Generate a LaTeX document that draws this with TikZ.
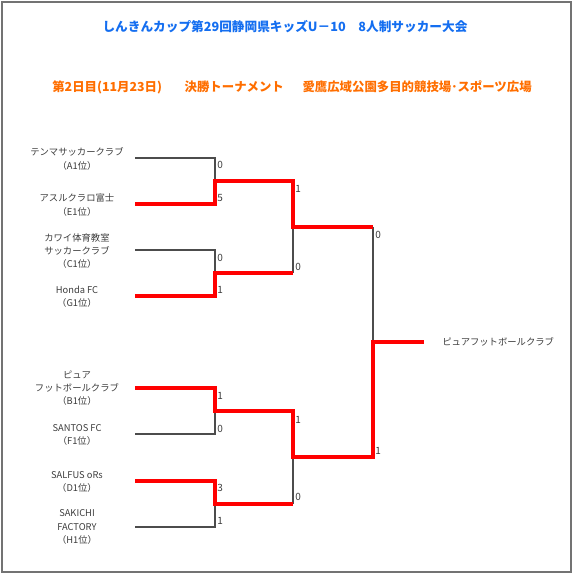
\documentclass[tikz,border=0pt]{standalone}
\usepackage{fontspec}
\newfontfamily\jpfont{Noto Sans CJK JP}
\usetikzlibrary{positioning}
\definecolor{titleblue}{RGB}{20,110,240}
\definecolor{titleorange}{RGB}{255,110,0}
\definecolor{textgray}{RGB}{60,60,60}

\tikzset{
  team/.style={align=center, text=textgray, inner sep=0pt,
    font=\jpfont\fontsize{7}{10}\selectfont},
  score/.style={anchor=west, text=textgray, inner sep=0pt,
    font=\jpfont\fontsize{7.5}{8}\selectfont},
  winline/.style={red, line width=2.4pt},
  loseline/.style={black!70, line width=0.8pt},
}

\begin{document}
\begin{tikzpicture}[x=0.75pt, y=-0.75pt]
  \useasboundingbox (0,0) rectangle (579,579);
  \draw[black!55, line width=1pt] (2,2) rectangle (571,572);
  % Titles
  \node[font=\jpfont\bfseries\fontsize{9.5}{11}\selectfont, text=titleblue] (title) at (285,27)
    {しんきんカップ第29回静岡県キッズU－10　8人制サッカー大会};
  \node[font=\jpfont\bfseries\fontsize{9.3}{11}\selectfont, text=titleorange] (subtitle) at (292,87)
    {第2日目(11月23日)\hspace{17pt}決勝トーナメント\hspace{14pt}愛鷹広域公園多目的競技場･スポーツ広場};
  % Teams
  \node[team] (tA) at (77,159) {テンマサッカークラブ\\（A1位）};
  \node[team] (tE) at (77,205) {アスルクラロ富士\\（E1位）};
  \node[team] (tC) at (77,251) {カワイ体育教室\\サッカークラブ\\（C1位）};
  \node[team] (tG) at (77,297) {Honda FC\\（G1位）};
  \node[team] (tB) at (77,388) {ピュア\\フットボールクラブ\\（B1位）};
  \node[team] (tF) at (77,435) {SANTOS FC\\（F1位）};
  \node[team] (tD) at (77,482) {SALFUS oRs\\（D1位）};
  \node[team] (tH) at (77,527) {SAKICHI\\FACTORY\\（H1位）};
  % Line starts and junctions
  \coordinate (A) at (135,158);
  \coordinate (E) at (135,204);
  \coordinate (C) at (135,250);
  \coordinate (G) at (135,296);
  \coordinate (B) at (135,388);
  \coordinate (F) at (135,434);
  \coordinate (D) at (135,481);
  \coordinate (H) at (135,527);
  \coordinate (j1) at (215,181);
  \coordinate (j2) at (215,273);
  \coordinate (j3) at (215,411);
  \coordinate (j4) at (215,504);
  \coordinate (k1) at (293,227);
  \coordinate (k2) at (293,457);
  \coordinate (fin) at (373,342);
  \coordinate (win) at (424,342);
  % Losing lines
  \draw[loseline] (A) -- (A -| j1) -- (j1);
  \draw[loseline] (C) -- (C -| j2) -- (j2);
  \draw[loseline] (F) -- (F -| j3) -- (j3);
  \draw[loseline] (H) -- (H -| j4) -- (j4);
  \draw[loseline] (j2 -| k1) -- (k1);
  \draw[loseline] (j4 -| k2) -- (k2);
  \draw[loseline] (k1 -| fin) -- (fin);
  % Winning lines
  \draw[winline] (E) -- (E -| j1) -- (j1) -- (j1 -| k1) -- (k1) -- (k1 -| fin);
  \draw[winline] (G) -- (G -| j2) -- (j2) -- (j2 -| k1);
  \draw[winline] (B) -- (B -| j3) -- (j3) -- (j3 -| k2) -- (k2) -- (k2 -| fin) -- (fin) -- (win);
  \draw[winline] (D) -- (D -| j4) -- (j4) -- (j4 -| k2);
  % Scores
  \node[score] (sA) at (217,165) {0};
  \node[score] (sE) at (217,198) {5};
  \node[score] (sC) at (217,258) {0};
  \node[score] (sG) at (217,290) {1};
  \node[score] (sB) at (217,396) {1};
  \node[score] (sF) at (217,429) {0};
  \node[score] (sD) at (217,488) {3};
  \node[score] (sH) at (217,521) {1};
  \node[score] (sEk) at (295,189) {1};
  \node[score] (sGk) at (295,267) {0};
  \node[score] (sBk) at (295,420) {1};
  \node[score] (sDk) at (295,497) {0};
  \node[score] (sEf) at (375,235) {0};
  \node[score] (sBf) at (375,451) {1};
  % Champion
  \node[team, anchor=west] (champ) at (442,342) {ピュアフットボールクラブ};
\end{tikzpicture}
\end{document}
